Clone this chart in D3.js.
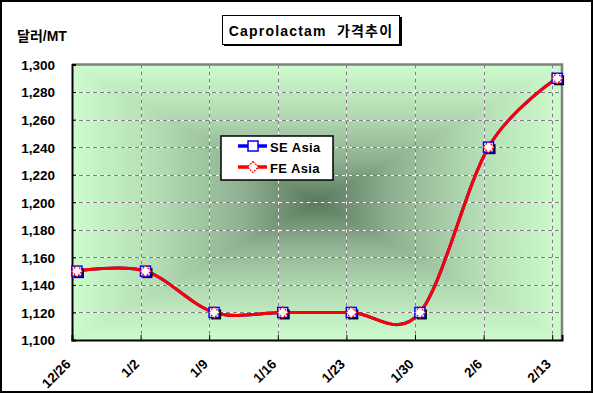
<!DOCTYPE html>
<html>
<head>
<meta charset="utf-8">
<script src="https://cdn.jsdelivr.net/npm/d3@7"></script>
<style>
  html, body { margin: 0; padding: 0; background: #fff; }
  svg { display: block; }
  text { font-family: "Liberation Sans", Arial, "Noto Sans CJK KR", sans-serif; font-weight: bold; }
</style>
</head>
<body>
<svg id="chart" width="593" height="393"></svg>
<script>
// ---- data ----
const dateLabels = ["12/26", "1/2", "1/9", "1/16", "1/23", "1/30", "2/6", "2/13"];
const dates = ["2005-12-26", "2006-01-02", "2006-01-09", "2006-01-16", "2006-01-23", "2006-01-30", "2006-02-06", "2006-02-13"];
const seAsia = [1150, 1150, 1120, 1120, 1120, 1120, 1240, 1290];
const feAsia = [1150, 1150, 1120, 1120, 1120, 1120, 1240, 1290];
const yTicks = [1100, 1120, 1140, 1160, 1180, 1200, 1220, 1240, 1260, 1280, 1300];
const titleText = "Caprolactam  가격추이";
const yUnitText = "달러/MT";
const seriesNames = ["SE Asia", "FE Asia"];

const parse = d3.timeParse("%Y-%m-%d");
const dateObjs = dates.map(parse);

const svg = d3.select("#chart");
const W = 593, H = 393;
const plot = { left: 72, right: 562, top: 64.5, bottom: 340 };

const x = d3.scaleTime()
  .domain([dateObjs[0], d3.timeDay.offset(dateObjs[dateObjs.length - 1], 1)])
  .range([plot.left, plot.right]);
const y = d3.scaleLinear().domain([1100, 1300]).range([plot.bottom, plot.top]);

// outer frame
svg.append("rect").attr("x", 1).attr("y", 1).attr("width", W - 2).attr("height", H - 2)
  .attr("fill", "#fff").attr("stroke", "#000").attr("stroke-width", 2);

// rectangular "from center" gradient background
const defs = svg.append("defs");
const cx = (plot.left + plot.right) / 2, cy = (plot.top + plot.bottom) / 2;
const stops = [[0, "#ccfccc"], [0.35, "#b4dcb4"], [0.7, "#8eb090"], [1, "#587a5c"]];
function mkGrad(id, x1, y1, x2, y2) {
  const g = defs.append("linearGradient").attr("id", id).attr("gradientUnits", "userSpaceOnUse")
    .attr("x1", x1).attr("y1", y1).attr("x2", x2).attr("y2", y2).attr("spreadMethod", "reflect");
  stops.forEach(s => g.append("stop").attr("offset", s[0]).attr("stop-color", s[1]));
}
mkGrad("gv", cx, plot.top, cx, cy);
mkGrad("gh", plot.left, cy, cx, cy);
svg.append("rect").attr("x", plot.left).attr("y", plot.top)
  .attr("width", plot.right - plot.left).attr("height", plot.bottom - plot.top)
  .attr("fill", "url(#gv)");
svg.append("path")
  .attr("d", `M${plot.left},${plot.top} L${cx},${cy} L${plot.left},${plot.bottom} Z M${plot.right},${plot.top} L${cx},${cy} L${plot.right},${plot.bottom} Z`)
  .attr("fill", "url(#gh)");

// gridlines
const tickDates = dateObjs;
const grid = svg.append("g");
yTicks.forEach(v => {
  if (v === 1100 || v === 1300) return;
  const yy = Math.round(y(v)) + 0.5;
  grid.append("line").attr("x1", plot.left).attr("x2", plot.right).attr("y1", yy).attr("y2", yy)
    .attr("stroke", "#fff").attr("stroke-width", 1);
  grid.append("line").attr("x1", plot.left).attr("x2", plot.right).attr("y1", yy).attr("y2", yy)
    .attr("stroke", "#808080").attr("stroke-width", 1).attr("stroke-dasharray", "4,3");
});
tickDates.forEach((d, i) => {
  if (i === 0) return;
  const xx = Math.round(x(d)) + 0.5;
  grid.append("line").attr("x1", xx).attr("x2", xx).attr("y1", plot.top).attr("y2", plot.bottom)
    .attr("stroke", "#fff").attr("stroke-width", 1);
  grid.append("line").attr("x1", xx).attr("x2", xx).attr("y1", plot.top).attr("y2", plot.bottom)
    .attr("stroke", "#808080").attr("stroke-width", 1).attr("stroke-dasharray", "4,3");
});

// plot border (gray top/right)
svg.append("path")
  .attr("d", `M${plot.left},${plot.top} H${plot.right} V${plot.bottom}`)
  .attr("fill", "none").attr("stroke", "#808080").attr("stroke-width", 2.5);

// axes
const yAxis = d3.axisLeft(y).tickValues(yTicks).tickSize(-4).tickPadding(0).tickFormat(d3.format(","));
const gy = svg.append("g").attr("transform", `translate(${plot.left},0)`).call(yAxis);
gy.select(".domain").attr("stroke", "#000").attr("stroke-width", 2);
gy.selectAll(".tick line").attr("stroke", "#000");
gy.selectAll(".tick text").attr("x", -17).attr("font-size", 13.5).attr("fill", "#000")
  .attr("dy", "0.36em")
  .style("font-family", "'Liberation Sans', Arial, sans-serif").style("font-weight", "bold");

const xAxis = d3.axisBottom(x).tickValues(tickDates).tickSize(-5).tickFormat((d, i) => dateLabels[i]);
const gx = svg.append("g").attr("transform", `translate(0,${plot.bottom})`).call(xAxis);
gx.select(".domain").attr("stroke", "#000").attr("stroke-width", 2);
gx.selectAll(".tick line").attr("stroke", "#000");
gx.selectAll(".tick text")
  .attr("font-size", 13.5).attr("fill", "#000")
  .attr("text-anchor", "end")
  .attr("x", 0).attr("y", 0).attr("dy", 0)
  .attr("transform", "translate(-1,25) rotate(-45)")
  .style("font-family", "'Liberation Sans', Arial, sans-serif").style("font-weight", "bold");

// series
const pts = (vals) => vals.map((v, i) => [x(d3.timeHour.offset(dateObjs[i], 12)), y(v)]);
const line = d3.line().curve(d3.curveCardinal.tension(0));

svg.append("path").attr("d", line(pts(seAsia))).attr("fill", "none")
  .attr("stroke", "#0000ff").attr("stroke-width", 3);
svg.append("path").attr("d", line(pts(feAsia))).attr("fill", "none")
  .attr("stroke", "#ff0000").attr("stroke-width", 3);

function squareMarker(g, cx, cy, shadow) {
  if (shadow) g.append("rect").attr("x", cx - 3).attr("y", cy - 3).attr("width", 10).attr("height", 10).attr("fill", "#000");
  g.append("rect").attr("x", cx - 5).attr("y", cy - 5).attr("width", 10).attr("height", 10)
    .attr("fill", "#fff").attr("stroke", "#0000ff").attr("stroke-width", 1.5);
}
function diamondMarker(g, cx, cy) {
  g.append("path").attr("d", `M${cx},${cy - 5.5} L${cx + 5.5},${cy} L${cx},${cy + 5.5} L${cx - 5.5},${cy} Z`)
    .attr("fill", "#fff").attr("stroke", "#ff0000").attr("stroke-width", 1.2).attr("stroke-dasharray", "2,1");
}

const mk = svg.append("g");
pts(seAsia).forEach(p => squareMarker(mk, p[0], p[1], true));
pts(feAsia).forEach(p => diamondMarker(mk, p[0], p[1]));

// legend
const lg = svg.append("g");
lg.append("rect").attr("x", 221).attr("y", 136).attr("width", 112).attr("height", 44)
  .attr("fill", "#fff").attr("stroke", "#000").attr("stroke-width", 1.5);
lg.append("line").attr("x1", 238).attr("x2", 267).attr("y1", 146).attr("y2", 146)
  .attr("stroke", "#0000ff").attr("stroke-width", 3.5);
squareMarker(lg, 253, 146, false);
lg.append("text").attr("x", 270).attr("y", 151.5).attr("font-size", 13).attr("letter-spacing", 0.4)
  .text(seriesNames[0]);
lg.append("line").attr("x1", 238).attr("x2", 267).attr("y1", 167).attr("y2", 167)
  .attr("stroke", "#ff0000").attr("stroke-width", 3.5);
diamondMarker(lg, 253, 167);
lg.append("text").attr("x", 270).attr("y", 172.5).attr("font-size", 13).attr("letter-spacing", 0.4)
  .text(seriesNames[1]);

// title
svg.append("rect").attr("x", 224).attr("y", 17).attr("width", 178).attr("height", 29).attr("fill", "#000");
svg.append("rect").attr("x", 222.5).attr("y", 15.5).attr("width", 177).attr("height", 29)
  .attr("fill", "#fff").attr("stroke", "#000").attr("stroke-width", 1);
svg.append("text").attr("x", 311).attr("y", 36).attr("text-anchor", "middle")
  .attr("font-size", 14).attr("letter-spacing", 1.2)
  .style("white-space", "pre")
  .text(titleText);

// unit label
svg.append("text").attr("x", 17).attr("y", 41).attr("font-size", 14).text(yUnitText);
</script>
</body>
</html>
